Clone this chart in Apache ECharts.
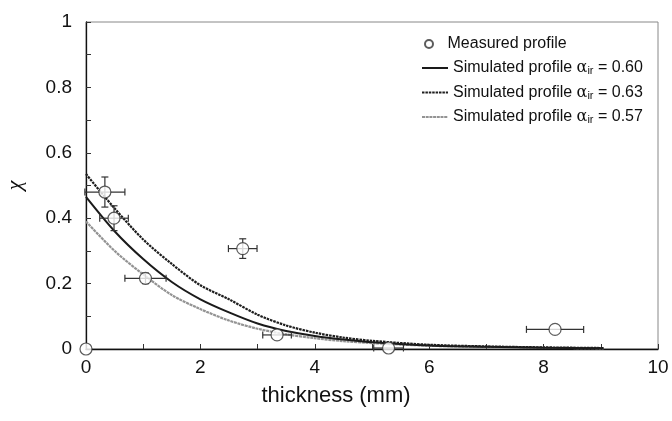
<!DOCTYPE html>
<html>
<head>
<meta charset="utf-8">
<script src="https://cdn.jsdelivr.net/npm/echarts@6/dist/echarts.min.js"></script>
<style>
html,body{margin:0;padding:0;background:#fff;}
#chart{width:672px;height:421px;}
</style>
</head>
<body>
<div id="chart"></div>
<script>
// Measured profile
var measX  = [0, 0.33, 0.49, 1.04, 2.74, 3.34, 5.29, 8.2];
var measY  = [0, 0.48, 0.40, 0.216, 0.307, 0.043, 0.003, 0.06];
var measXErr = [0, 0.35, 0.25, 0.36, 0.25, 0.25, 0.26, 0.50];
var measYErr = [0, 0.046, 0.038, 0.016, 0.03, 0, 0, 0];

// Simulated profiles
var curveX   = [0, 0.5, 1, 1.5, 2, 2.5, 3, 3.5, 4, 4.5, 5, 6, 7, 8, 9.05];
var curve060 = [0.465, 0.36, 0.275, 0.205, 0.152, 0.112, 0.078, 0.055, 0.04, 0.029, 0.021, 0.011, 0.007, 0.004, 0.002];
var curve063 = [0.535, 0.43, 0.335, 0.26, 0.195, 0.152, 0.105, 0.072, 0.05, 0.035, 0.025, 0.013, 0.008, 0.005, 0.003];
var curve057 = [0.39, 0.30, 0.228, 0.165, 0.122, 0.087, 0.062, 0.045, 0.033, 0.024, 0.018, 0.010, 0.006, 0.004, 0.002];

var xTicks = [0, 2, 4, 6, 8, 10];
var yTicks = [0, 0.2, 0.4, 0.6, 0.8, 1];

var nameMeas = 'Measured profile';
var name060 = 'Simulated profile 0.60';
var name063 = 'Simulated profile 0.63';
var name057 = 'Simulated profile 0.57';

function pairs(xs, ys){ return xs.map(function(x,i){ return [x, ys[i]]; }); }

var FONT = 'Liberation Sans';
var chart = echarts.init(document.getElementById('chart'), null, {renderer:'canvas'});

var errData = measX.map(function(x,i){ return [x, measY[i], measXErr[i], measYErr[i]]; });

function renderErr(params, api){
  var x = api.value(0), y = api.value(1), ex = api.value(2), ey = api.value(3);
  var children = [];
  var st = {stroke:'#333', lineWidth:1.2};
  var cap = 3.5;
  if (ex > 0){
    var a = api.coord([x-ex, y]), b = api.coord([x+ex, y]);
    children.push({type:'line', shape:{x1:a[0],y1:a[1],x2:b[0],y2:b[1]}, style:st});
    children.push({type:'line', shape:{x1:a[0],y1:a[1]-cap,x2:a[0],y2:a[1]+cap}, style:st});
    children.push({type:'line', shape:{x1:b[0],y1:b[1]-cap,x2:b[0],y2:b[1]+cap}, style:st});
  }
  if (ey > 0){
    var c = api.coord([x, y-ey]), d = api.coord([x, y+ey]);
    children.push({type:'line', shape:{x1:c[0],y1:c[1],x2:d[0],y2:d[1]}, style:st});
    children.push({type:'line', shape:{x1:c[0]-cap,y1:c[1],x2:c[0]+cap,y2:c[1]}, style:st});
    children.push({type:'line', shape:{x1:d[0]-cap,y1:d[1],x2:d[0]+cap,y2:d[1]}, style:st});
  }
  return {type:'group', children:children};
}

var legendRich = {
  a:{fontFamily:FONT, fontSize:16, color:'#111'},
  g:{fontFamily:'DejaVu Serif', fontSize:16, color:'#111'},
  s:{fontFamily:FONT, fontSize:11, color:'#111', verticalAlign:'bottom', padding:[6,0,0,0]}
};
function legendFmt(name){
  if (name === nameMeas) return '{a|' + name + '}';
  var v = name.split(' ').pop();
  return '{a|Simulated profile }{g|α}{s|ir}{a| = ' + v + '}';
}
var hideSym = {color:'rgba(0,0,0,0)', borderColor:'rgba(0,0,0,0)', borderWidth:0};

var option = {
  animation:false,
  backgroundColor:'#fff',
  grid:{left:86, right:14, top:22, bottom:72, show:true, borderColor:'#888', borderWidth:1,
        containLabel:false, outerBoundsMode:'none'},
  legend:[
    {data:[nameMeas], left:419, top:31, itemWidth:27, itemHeight:8, itemGap:8,
     formatter:legendFmt, textStyle:{rich:legendRich}, selectedMode:false},
    {data:[{name:name060, itemStyle:hideSym}, {name:name063, itemStyle:hideSym}, {name:name057, itemStyle:hideSym}],
     orient:'vertical', left:416, top:55, itemWidth:26, itemHeight:14, itemGap:8,
     itemStyle:hideSym,
     formatter:legendFmt, textStyle:{rich:legendRich}, selectedMode:false}
  ],
  xAxis:{
    type:'value', min:0, max:10, interval:1,
    name:'thickness (mm)', nameLocation:'middle', nameGap:36,
    nameTextStyle:{fontFamily:FONT, fontSize:22, color:'#111', padding:[0,72,0,0]},
    axisLine:{lineStyle:{color:'#111', width:1.3}},
    axisTick:{inside:true, length:5, lineStyle:{color:'#333'}},
    axisLabel:{fontFamily:FONT, fontSize:19, color:'#111', margin:9,
      formatter:function(v){ return xTicks.indexOf(v) >= 0 ? String(v) : ''; }},
    splitLine:{show:false}
  },
  yAxis:{
    type:'value', min:0, max:1, interval:0.1,
    name:'χ', nameLocation:'middle', nameGap:60, nameRotate:90,
    nameTextStyle:{fontFamily:'Liberation Serif', fontStyle:'italic', fontSize:22, color:'#111'},
    axisLine:{lineStyle:{color:'#111', width:1.3}},
    axisTick:{inside:true, length:5, lineStyle:{color:'#333'}},
    axisLabel:{fontFamily:FONT, fontSize:19, color:'#111', margin:14,
      formatter:function(v){
        var r = Math.round(v*10)/10;
        for (var i=0;i<yTicks.length;i++){ if (Math.abs(yTicks[i]-r)<1e-9) return String(yTicks[i]); }
        return '';
      }},
    splitLine:{show:false}
  },
  series:[
    {name:name057, type:'line', data:pairs(curveX, curve057), smooth:0.3, symbol:'none', showSymbol:false,
     lineStyle:{color:'#939393', width:2.2, type:[3,0.7]}, itemStyle:{color:'#999'}, z:2},
    {name:name060, type:'line', data:pairs(curveX, curve060), smooth:0.3, symbol:'none', showSymbol:false,
     lineStyle:{color:'#1a1a1a', width:2}, itemStyle:{color:'#1a1a1a'}, z:3},
    {name:name063, type:'line', data:pairs(curveX, curve063), smooth:0.3, symbol:'none', showSymbol:false,
     lineStyle:{color:'#1e1e1e', width:2.2, type:[2.5,0.9]}, itemStyle:{color:'#222'}, z:3},
    {name:'err', type:'custom', data:errData, renderItem:renderErr, clip:false, z:4,
     encode:{x:0, y:1}},
    {name:nameMeas, type:'scatter', data:pairs(measX, measY), symbol:'circle', symbolSize:12, clip:false,
     itemStyle:{color:'#fff', borderColor:'#333', borderWidth:1.2}, z:5}
  ]
};
chart.setOption(option);
</script>
</body>
</html>
